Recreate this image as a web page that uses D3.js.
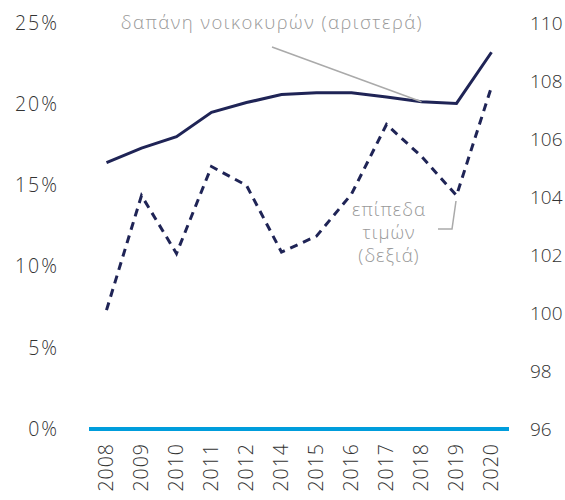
<!DOCTYPE html>
<html>
<head>
<meta charset="utf-8">
<script src="https://cdn.jsdelivr.net/npm/d3@7"></script>
<style>
  body { margin: 0; background: #fff; }
  text { font-family: "Open Sans", "Noto Sans", sans-serif; font-weight: 300; }
</style>
</head>
<body>
<div id="chart"></div>
<script>
// chart size
const width = 565;
const height = 500;
const margin = {left: 89, right: 56, top: 23, bottom: 71};

// data
const years = ["2008", "2009", "2010", "2011", "2012", "2014", "2015", "2016", "2017", "2018", "2019", "2020"];
const spending = [16.4, 17.3, 18.0, 19.5, 20.1, 20.6, 20.7, 20.7, 20.45, 20.15, 20.05, 23.2];   // left axis, %
const prices = [100.1, 104.05, 102.05, 105.05, 104.4, 102.1, 102.65, 104.1, 106.5, 105.4, 104.05, 107.8]; // right axis
const leftTicks = [0, 5, 10, 15, 20, 25];
const rightTicks = [96, 98, 100, 102, 104, 106, 108, 110];

const svg = d3.select("#chart")
  .append("svg")
  .attr("width", width)
  .attr("height", height);

// scales
const x = d3.scaleBand()
  .domain(years)
  .range([margin.left, width - margin.right])
  .padding(0);

const yLeft = d3.scaleLinear()
  .domain([0, 25])
  .range([height - margin.bottom, margin.top]);

const yRight = d3.scaleLinear()
  .domain([96, 110])
  .range([height - margin.bottom, margin.top]);

const cx = d => x(d) + x.bandwidth() / 2;

// left axis
svg.append("g")
  .attr("transform", `translate(${margin.left - 30}, 0)`)
  .call(d3.axisLeft(yLeft).tickValues(leftTicks).tickSize(0).tickPadding(0).tickFormat(d => d + "%"))
  .call(g => g.select(".domain").remove())
  .selectAll("text")
    .attr("font-size", "19.5px")
    .attr("letter-spacing", "2px")
    .attr("fill", "#333");

// right axis (kept inside the page)
svg.append("g")
  .attr("transform", `translate(${width - 35}, 0)`)
  .call(d3.axisRight(yRight).tickValues(rightTicks).tickSize(0).tickPadding(0))
  .call(g => g.select(".domain").remove())
  .selectAll("text")
    .attr("font-size", "19px")
    .attr("fill", "#333");

// x axis, labels turned
svg.append("g")
  .attr("transform", `translate(0, ${height - margin.bottom})`)
  .call(d3.axisBottom(x).tickSize(0).tickPadding(0))
  .call(g => g.select(".domain").remove())
  .selectAll("text")
    .attr("font-size", "19.5px")
    .attr("letter-spacing", "1px")
    .attr("fill", "#333")
    .attr("text-anchor", "end")
    .attr("dy", "0.35em")
    .attr("transform", "translate(0, 14) rotate(-90)");

// zero line
svg.append("line")
  .attr("x1", margin.left)
  .attr("x2", width - margin.right)
  .attr("y1", yLeft(0))
  .attr("y2", yLeft(0))
  .attr("stroke", "#009ddc")
  .attr("stroke-width", 4);

// household spending (left)
const lineLeft = d3.line()
  .x((d, i) => cx(years[i]))
  .y(d => yLeft(d));

svg.append("path")
  .datum(spending)
  .attr("d", lineLeft)
  .attr("fill", "none")
  .attr("stroke", "#1f2456")
  .attr("stroke-width", 3);

// price level (right)
const lineRight = d3.line()
  .x((d, i) => cx(years[i]))
  .y(d => yRight(d));

svg.append("path")
  .datum(prices)
  .attr("d", lineRight)
  .attr("fill", "none")
  .attr("stroke", "#1f2456")
  .attr("stroke-width", 3)
  .attr("stroke-dasharray", "8,6");

// annotations
const grey = "#999";

svg.append("text")
  .attr("x", 272)
  .attr("y", 29)
  .attr("text-anchor", "middle")
  .attr("font-size", "18.5px")
  .attr("letter-spacing", "1.5px")
  .attr("fill", grey)
  .text("δαπάνη νοικοκυρών (αριστερά)");

svg.append("line")
  .attr("x1", 272)
  .attr("y1", 47)
  .attr("x2", cx("2018"))
  .attr("y2", yLeft(spending[9]))
  .attr("stroke", "#aaa")
  .attr("stroke-width", 1.5);

const lbl = svg.append("text")
  .attr("text-anchor", "middle")
  .attr("font-size", "18.5px")
  .attr("letter-spacing", "1px")
  .attr("fill", grey);
["επίπεδα", "τιμών", "(δεξιά)"].forEach((t, i) => {
  lbl.append("tspan")
    .attr("x", 389)
    .attr("y", 216 + i * 23)
    .text(t);
});

svg.append("polyline")
  .attr("points", [[438, 229], [452, 229], [456, 201]].join(" "))
  .attr("fill", "none")
  .attr("stroke", "#aaa")
  .attr("stroke-width", 1.5);
</script>
</body>
</html>
